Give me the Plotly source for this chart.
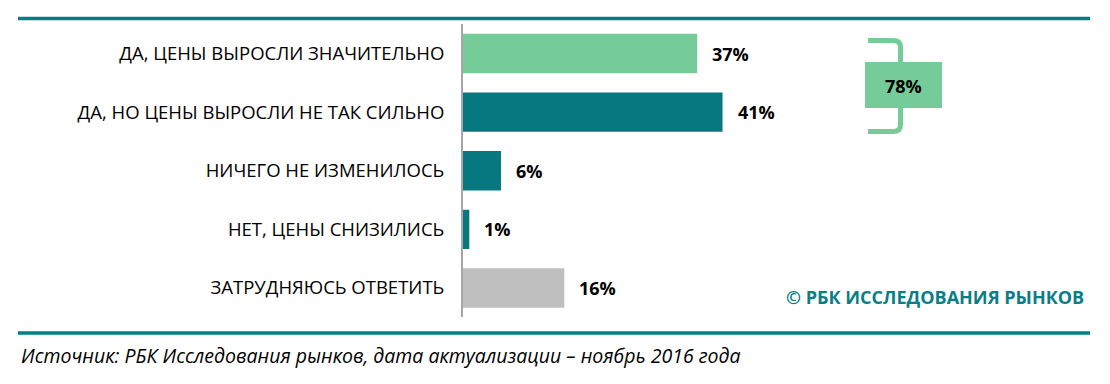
import plotly.graph_objects as go

categories = ["ДА, ЦЕНЫ ВЫРОСЛИ ЗНАЧИТЕЛЬНО", "ДА, НО ЦЕНЫ ВЫРОСЛИ НЕ ТАК СИЛЬНО",
              "НИЧЕГО НЕ ИЗМЕНИЛОСЬ", "НЕТ, ЦЕНЫ СНИЗИЛИСЬ", "ЗАТРУДНЯЮСЬ ОТВЕТИТЬ"]
values = [37, 41, 6, 1, 16]
bar_colors = ["#75CC98", "#077780", "#077780", "#077780", "#BFBFBF"]
total_label = f"{values[0] + values[1]}%"
source_text = "Источник: РБК Исследования рынков, дата актуализации – ноябрь 2016 года"
copyright_text = "© РБК ИССЛЕДОВАНИЯ РЫНКОВ"

W, H = 1110, 384
FONT = "Open Sans, Lato, sans-serif"

def px(x):
    return x / W

def py(y):
    return 1 - y / H

fig = go.Figure()
fig.add_trace(go.Bar(
    x=values, y=categories, orientation="h",
    marker=dict(color=bar_colors, line=dict(width=0)),
    hoverinfo="skip",
))

x0 = 463
scale = 6.33  # px per percent
xmax = (W - x0) / scale

annotations = []
for c, v in zip(categories, values):
    annotations.append(dict(x=v, y=c, xref="x", yref="y", text=f"<b>{v}%</b>",
                            showarrow=False, xanchor="left", xshift=13,
                            font=dict(family=FONT, size=18, color="#000000")))

annotations.append(dict(x=px(903.5), y=py(85.5), xref="paper", yref="paper",
                        text=f"<b>{total_label}</b>", showarrow=False,
                        xanchor="center", yanchor="middle",
                        font=dict(family=FONT, size=18, color="#000000")))
annotations.append(dict(x=px(1086), y=py(297), xref="paper", yref="paper",
                        text=f"<b>{copyright_text}</b>", showarrow=False,
                        xanchor="right", yanchor="middle",
                        font=dict(family=FONT, size=18, color="#0A7E86")))
annotations.append(dict(x=px(19), y=py(355), xref="paper", yref="paper",
                        text=f"<i>{source_text}</i>", showarrow=False,
                        xanchor="left", yanchor="middle",
                        font=dict(family=FONT, size=19.5, color="#000000")))

bracket = (f"M {px(868)},{py(40.5)} L {px(893)},{py(40.5)} "
           f"Q {px(900.5)},{py(40.5)} {px(900.5)},{py(47)} "
           f"L {px(900.5)},{py(125)} "
           f"Q {px(900.5)},{py(131.5)} {px(893)},{py(131.5)} "
           f"L {px(868)},{py(131.5)}")

shapes = [
    dict(type="line", xref="paper", yref="paper", x0=px(18), x1=px(1090),
         y0=py(18.5), y1=py(18.5), line=dict(color="#008080", width=3.5)),
    dict(type="line", xref="paper", yref="paper", x0=px(18), x1=px(1090),
         y0=py(333), y1=py(333), line=dict(color="#008080", width=3.5)),
    dict(type="path", xref="paper", yref="paper", path=bracket,
         line=dict(color="#75CC98", width=5)),
    dict(type="rect", xref="paper", yref="paper", x0=px(865), x1=px(942),
         y0=py(108), y1=py(62), fillcolor="#75CC98", line=dict(width=0)),
]

fig.update_layout(
    width=W, height=H,
    margin=dict(l=0, r=0, t=0, b=0),
    paper_bgcolor="white", plot_bgcolor="white",
    showlegend=False,
    bargap=0.33,
    xaxis=dict(domain=[px(x0), 1], range=[0, xmax], showgrid=False,
               zeroline=False, showticklabels=False, showline=False, fixedrange=True),
    yaxis=dict(domain=[py(317.3), py(24.2)], range=[4.5, -0.5],
               categoryorder="array", categoryarray=categories,
               showgrid=False, zeroline=False, showline=True,
               linecolor="#A6A6A6", linewidth=2, ticks="",
               ticklabelstandoff=13,
               tickfont=dict(family=FONT, size=18.5, color="#000000"), fixedrange=True),
    annotations=annotations,
    shapes=shapes,
)

fig.write_html("out.html", config={"displayModeBar": False},
               post_script="document.body.style.margin='0px';document.body.style.overflow='hidden';")
